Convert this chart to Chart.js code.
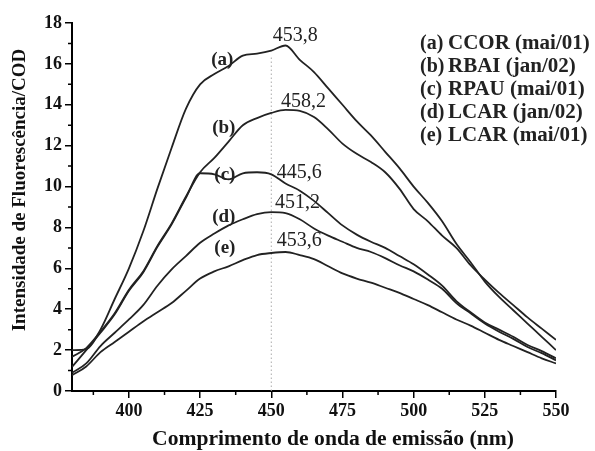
<!DOCTYPE html>
<html>
<head>
<meta charset="utf-8">
<script src="https://cdn.jsdelivr.net/npm/chart.js@4"></script>
<style>
  html, body { margin: 0; padding: 0; background: #fff; }
  canvas { display: block; }
</style>
</head>
<body>
<canvas id="chart" width="595" height="451"></canvas>
<script>
// wavelength (nm), every 5 nm
const wavelengths = [380, 385, 390, 395, 400, 405, 410, 415, 420, 425, 430, 435, 440, 445, 450, 455, 460, 465, 470, 475,
                     480, 485, 490, 495, 500, 505, 510, 515, 520, 525, 530, 535, 540, 545, 550];

const serieA = [2.0, 2.05, 3.0, 4.5, 6.0, 7.8, 9.9, 11.9, 13.8, 15.0, 15.5, 15.9, 16.4, 16.5, 16.65, 16.9, 16.2, 15.6, 14.8, 14.0,
                13.2, 12.5, 11.7, 10.9, 10.0, 9.2, 8.3, 7.2, 6.3, 5.35, 4.6, 3.95, 3.3, 2.65, 2.0];
const serieB = [1.67, 2.1, 2.9, 3.8, 4.95, 5.85, 7.1, 8.2, 9.5, 10.7, 11.4, 12.2, 13.0, 13.35, 13.6, 13.75, 13.7, 13.4, 12.8, 12.1,
                11.6, 11.2, 10.7, 9.9, 8.9, 8.3, 7.6, 7.0, 6.15, 5.45, 4.8, 4.2, 3.6, 3.05, 2.5];
const serieC = [1.18, 2.0, 2.85, 3.75, 4.9, 5.8, 7.05, 8.15, 9.45, 10.65, 10.6, 10.35, 10.65, 10.7, 10.6, 10.15, 9.8, 9.3, 8.7, 8.1,
                7.65, 7.3, 7.0, 6.6, 6.2, 5.7, 5.15, 4.4, 3.85, 3.35, 3.0, 2.65, 2.25, 1.95, 1.6];
const serieD = [0.89, 1.35, 2.2, 2.85, 3.5, 4.2, 5.15, 5.95, 6.6, 7.25, 7.7, 8.1, 8.4, 8.65, 8.75, 8.7, 8.4, 7.95, 7.6, 7.3,
                7.0, 6.8, 6.5, 6.15, 5.85, 5.45, 5.0, 4.3, 3.8, 3.3, 2.9, 2.55, 2.15, 1.85, 1.5];
const serieE = [0.77, 1.2, 1.9, 2.4, 2.9, 3.4, 3.85, 4.3, 4.9, 5.5, 5.85, 6.1, 6.4, 6.65, 6.75, 6.8, 6.65, 6.45, 6.1, 5.75,
                5.5, 5.3, 5.05, 4.8, 4.5, 4.2, 3.85, 3.5, 3.2, 2.85, 2.5, 2.2, 1.9, 1.6, 1.35];

const letters = ["(a)", "(b)", "(c)", "(d)", "(e)"];
const names = ["CCOR (mai/01)", "RBAI (jan/02)", "RPAU (mai/01)", "LCAR (jan/02)", "LCAR (mai/01)"];

// peak labels and where they sit (data units)
const peakTexts = ["453,8", "458,2", "445,6", "451,2", "453,6"];
const peakX = [458.4, 461.3, 459.8, 459.2, 459.8];
const peakY = [17.4, 14.16, 10.66, 9.2, 7.33];

// curve letters position (data units)
const letterX = [432.8, 433.3, 433.7, 433.3, 433.7];
const letterY = [16.2, 12.87, 10.57, 8.5, 7.0];

const xTicks = [400, 425, 450, 475, 500, 525, 550];
const xMinor = [387.5, 412.5, 437.5, 462.5, 487.5, 512.5, 537.5];
const yTicks = [0, 2, 4, 6, 8, 10, 12, 14, 16, 18];
const yMinor = [1, 3, 5, 7, 9, 11, 13, 15, 17];

const refLineX = 450;

const xTitle = "Comprimento de onda de emissão (nm)";
const yTitle = "Intensidade de Fluorescência/COD";

const allSeries = [serieA, serieB, serieC, serieD, serieE];
const SERIF = "'Liberation Serif', 'Times New Roman', serif";

// text a bit wider than the font gives, like the scanned figure
function wideText(ctx, text, x, y, sx) {
    ctx.save();
    ctx.translate(x, y);
    ctx.scale(sx, 1);
    ctx.fillText(text, 0, 0);
    ctx.restore();
}

const extras = {
    id: "extras",
    beforeDatasetsDraw(chart) {
        const ctx = chart.ctx;
        const x = chart.scales.x, y = chart.scales.y;
        // dotted line under the peaks
        const top = serieA[wavelengths.indexOf(refLineX)];
        ctx.save();
        ctx.strokeStyle = "#aaa";
        ctx.lineWidth = 1;
        ctx.setLineDash([1.5, 2.5]);
        ctx.beginPath();
        ctx.moveTo(x.getPixelForValue(refLineX), y.getPixelForValue(0));
        ctx.lineTo(x.getPixelForValue(refLineX), y.getPixelForValue(top) + 5);
        ctx.stroke();
        ctx.restore();
    },
    afterDraw(chart) {
        const ctx = chart.ctx;
        const x = chart.scales.x, y = chart.scales.y;
        const area = chart.chartArea;
        ctx.save();

        // minor ticks
        ctx.strokeStyle = "#000";
        ctx.lineWidth = 1.5;
        ctx.beginPath();
        xMinor.forEach(v => {
            const px = x.getPixelForValue(v);
            ctx.moveTo(px, area.bottom);
            ctx.lineTo(px, area.bottom + 4);
        });
        yMinor.forEach(v => {
            const py = y.getPixelForValue(v);
            ctx.moveTo(area.left, py);
            ctx.lineTo(area.left - 4, py);
        });
        ctx.stroke();

        // peak wavelengths
        ctx.fillStyle = "#222";
        ctx.textAlign = "center";
        ctx.textBaseline = "middle";
        ctx.font = "20px " + SERIF;
        peakTexts.forEach((t, i) => {
            ctx.fillText(t, x.getPixelForValue(peakX[i]), y.getPixelForValue(peakY[i]));
        });

        // curve letters
        ctx.font = "bold 19px " + SERIF;
        letters.forEach((t, i) => {
            ctx.fillText(t, x.getPixelForValue(letterX[i]), y.getPixelForValue(letterY[i]));
        });

        // legend (text only)
        ctx.font = "bold 20px " + SERIF;
        ctx.textAlign = "left";
        letters.forEach((t, i) => {
            const ly = 44 + i * 23;
            wideText(ctx, t, 420, ly, 1.0);
            wideText(ctx, names[i], 448, ly, 1.05);
        });

        // axis titles
        ctx.fillStyle = "#111";
        ctx.textAlign = "center";
        wideText(ctx, xTitle, 333, 440, 1.08);

        ctx.font = "bold 19px " + SERIF;
        ctx.translate(20, 190);
        ctx.rotate(-Math.PI / 2);
        ctx.fillText(yTitle, 0, 0);
        ctx.restore();
    }
};

function makeChart() {
    const canvas = document.querySelector("#chart");

    const datasets = allSeries.map((s, i) => ({
        label: letters[i] + " " + names[i],
        data: s.map((v, j) => ({ x: wavelengths[j], y: v })),
        borderColor: "#222",
        borderWidth: 1.8,
        pointRadius: 0,
        cubicInterpolationMode: "monotone",
        fill: false,
    }));

    const tickFont = { family: SERIF, size: 18, weight: "bold" };

    const options = {
        type: "line",
        data: { datasets: datasets },
        options: {
            responsive: false,
            animation: false,
            devicePixelRatio: 1,
            layout: { padding: { top: 23, right: 39, left: 0, bottom: 0 } },
            plugins: {
                legend: { display: false },
                tooltip: { enabled: false },
            },
            scales: {
                x: {
                    type: "linear",
                    min: 380,
                    max: 550,
                    afterBuildTicks: (axis) => { axis.ticks = xTicks.map(v => ({ value: v })); },
                    afterFit: (axis) => { axis.height = 60; },
                    grid: { drawOnChartArea: false, drawTicks: true, tickLength: 7, color: "#000", lineWidth: 1.5 },
                    border: { display: true, color: "#000", width: 2 },
                    ticks: { font: tickFont, color: "#111", padding: 3, maxRotation: 0 },
                },
                y: {
                    type: "linear",
                    min: 0,
                    max: 18,
                    afterBuildTicks: (axis) => { axis.ticks = yTicks.map(v => ({ value: v })); },
                    afterFit: (axis) => { axis.width = 72; },
                    grid: { drawOnChartArea: false, drawTicks: true, tickLength: 7, color: "#000", lineWidth: 1.5 },
                    border: { display: true, color: "#000", width: 2 },
                    ticks: { font: tickFont, color: "#111", padding: 3 },
                },
            },
        },
        plugins: [extras],
    };

    return new Chart(canvas.getContext("2d"), options);
}

makeChart();
</script>
</body>
</html>
